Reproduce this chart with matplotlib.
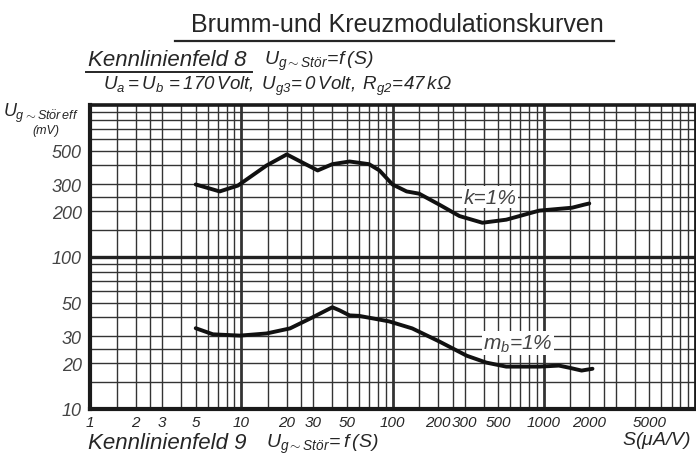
import numpy as np
import matplotlib
matplotlib.use("Agg")
import matplotlib.pyplot as plt
from matplotlib.lines import Line2D

# Kennlinien: Störspannung über Steilheit S (uA/V)
s_k = [5.0, 7.2, 9.5, 14.7, 20, 32, 40, 52, 70, 82, 100, 124, 150, 204, 277,
       393, 565, 935, 1540, 1850, 2000]
u_k = [300, 270, 295, 400, 473, 371, 408, 425, 408, 371, 300, 270, 261, 221,
       186, 168, 176, 202, 211, 221, 225]

s_m = [5.0, 6.5, 9.8, 14.7, 21, 29.5, 40, 44.6, 52, 60, 95, 135, 204, 310,
       417, 565, 935, 1260, 1470, 1780, 2100]
u_m = [34, 31, 30.4, 31.4, 33.9, 40, 46.7, 44.6, 41.3, 41, 37.7, 33.9, 27.8,
       22.4, 20.2, 19, 19, 19.3, 18.7, 17.9, 18.4]

x_ticks = [1, 2, 3, 5, 10, 20, 30, 50, 100, 200, 300, 500, 1000, 2000, 5000]
y_ticks = [10, 20, 30, 50, 100, 200, 300, 500]
grid_steps = [1, 1.5, 2, 2.5, 3, 4, 5, 6, 7, 8, 9]

FONT = ["Liberation Sans", "DejaVu Sans"]
INK = "#262626"

plt.rcParams["font.family"] = FONT
plt.rcParams["mathtext.fontset"] = "custom"
plt.rcParams["mathtext.rm"] = "Liberation Sans:italic"
plt.rcParams["mathtext.it"] = "Liberation Sans:italic"
plt.rcParams["mathtext.sf"] = "Liberation Sans:italic"


def fx(px):
    return px / 696


def fy(py):
    return 1 - py / 456


fig = plt.figure(figsize=(6.96, 4.56), dpi=100)
ax = fig.add_axes([fx(90), 46 / 456, 605 / 696, 304 / 456])
ax.set_xscale("log")
ax.set_yscale("log")
ax.set_xlim(1, 10000)
ax.set_ylim(10, 1000)

# Netz: Dekadenlinien kräftiger
for dec in [1, 10, 100, 1000]:
    for m in grid_steps:
        lw = 2.0 if m == 1 else 1.0
        ax.axvline(dec * m, color="#333333", lw=lw, zorder=1)
for dec in [10, 100]:
    for m in grid_steps:
        ax.axhline(dec * m, color="#333333", lw=1.0, zorder=1)
ax.axhline(100, color="#222222", lw=2.4, zorder=1)

ax.plot(s_k, u_k, color="#111111", lw=2.8, solid_capstyle="round",
        solid_joinstyle="round", zorder=3)
ax.plot(s_m, u_m, color="#111111", lw=2.8, solid_capstyle="round",
        solid_joinstyle="round", zorder=3)

ax.text(fx(490), fy(198), "k=1%", transform=fig.transFigure, fontsize=15,
        style="italic", color="#444444", ha="center", va="center", zorder=4,
        bbox=dict(facecolor="white", edgecolor="none", pad=1))
ax.text(fx(518), fy(344), r"$m_b$=1%", transform=fig.transFigure,
        fontsize=15, style="italic", color="#444444", ha="center",
        va="center", zorder=4,
        bbox=dict(facecolor="white", edgecolor="none", pad=1))

ax.minorticks_off()
ax.set_xticks(x_ticks, [str(v) for v in x_ticks], fontstyle="italic",
              fontsize=11, color=INK)
ax.set_yticks(y_ticks, [str(v) for v in y_ticks], fontstyle="italic",
              fontsize=13, color="#444444")
ax.tick_params(length=0, pad=4)
ax.tick_params(axis="y", pad=6)

for side, lw in [("left", 3.0), ("bottom", 3.0), ("top", 2.6), ("right", 2.0)]:
    ax.spines[side].set_linewidth(lw)
    ax.spines[side].set_color("#1a1a1a")

# Überschriften
fig.text(fx(397), fy(25), "Brumm-und Kreuzmodulationskurven",
         fontsize=18, color=INK, ha="center", va="center")
fig.add_artist(Line2D([fx(175), fx(614)], [fy(42), fy(42)],
                      color=INK, lw=1.6))
fig.text(fx(88), fy(61), "Kennlinienfeld 8", fontsize=16,
         style="italic", color=INK, ha="left", va="center")
fig.add_artist(Line2D([fx(86), fx(252)], [fy(73), fy(73)],
                      color=INK, lw=1.4))
fig.text(fx(264), fy(61), r"$U_{g\sim St\"or}\!=\!f\,(S)$",
         fontsize=14, color=INK, ha="left", va="center")
fig.text(fx(103), fy(86),
         r"$U_a = U_b\, = 170\,Volt,\; U_{g3}\!=0\,Volt,\; R_{g2}\!=\!47\,k\Omega$",
         fontsize=13.5, color=INK, ha="left", va="center")

# Achsenbeschriftung
fig.text(fx(3), fy(113), r"$U_{g\sim St\"or\,eff}$", fontsize=13,
         color=INK, ha="left", va="center")
fig.text(fx(46), fy(131), "(mV)", fontsize=9, style="italic",
         color=INK, ha="center", va="center")
fig.text(fx(656), fy(441), r"$S(\mu A/V)$", fontsize=14,
         color=INK, ha="center", va="center")

# nächstes Kennlinienfeld (angeschnitten)
fig.text(fx(88), fy(444), "Kennlinienfeld 9", fontsize=16,
         style="italic", color=INK, ha="left", va="center")
fig.text(fx(266), fy(444), r"$U_{g\sim St\"or}\!=f\,(S)$",
         fontsize=14, color=INK, ha="left", va="center")

fig.savefig("out.png", dpi=100)
